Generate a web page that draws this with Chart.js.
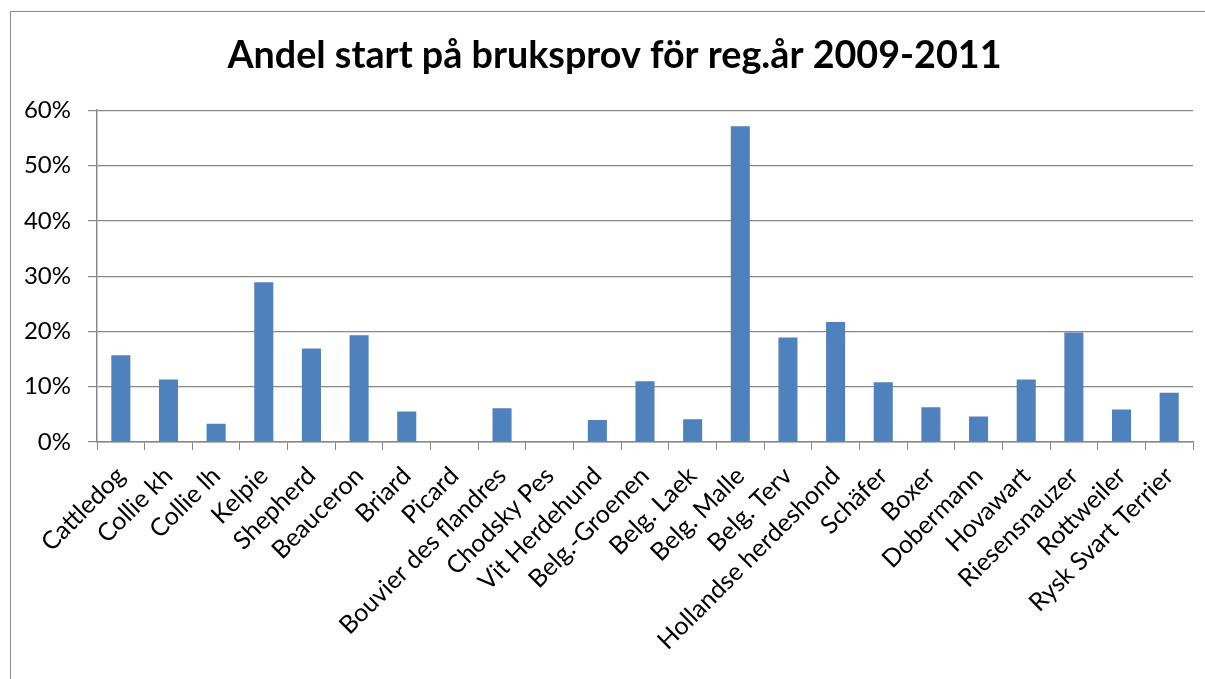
<!DOCTYPE html>
<html>
<head>
<meta charset="utf-8">
<script src="https://cdn.jsdelivr.net/npm/chart.js@4/dist/chart.umd.min.js"></script>
<style>
  html, body { margin: 0; padding: 0; background: #fff; }
  #wrap { position: relative; width: 1205px; height: 679px; }
  #frame { position: absolute; left: 10px; top: 11px; right: -5px; bottom: -5px;
           border-top: 1px solid #8a8a8a; border-left: 1px solid #8a8a8a; pointer-events: none; }
  canvas { display: block; }
</style>
</head>
<body>
<div id="wrap">
  <canvas id="c" width="1205" height="679"></canvas>
  <div id="frame"></div>
</div>
<script>
const titleText = "Andel start på bruksprov för reg.år 2009-2011";
const categories = ["Cattledog", "Collie kh", "Collie lh", "Kelpie", "Shepherd", "Beauceron",
  "Briard", "Picard", "Bouvier des flandres", "Chodsky Pes", "Vit Herdehund", "Belg.-Groenen",
  "Belg. Laek", "Belg. Malle", "Belg. Terv", "Hollandse herdeshond", "Schäfer", "Boxer",
  "Dobermann", "Hovawart", "Riesensnauzer", "Rottweiler", "Rysk Svart Terrier"];
const shares = [15.7, 11.3, 3.3, 28.9, 16.9, 19.3, 5.5, 0, 6.1, 0, 4.0, 11.0,
  4.1, 57.1, 18.9, 21.7, 10.8, 6.3, 4.6, 11.3, 19.8, 5.9, 8.9];
const yTicks = [0, 10, 20, 30, 40, 50, 60];

const FONT = "Lato";

// shift the title block so it is centred like the reference (Excel centres on the whole chart)
const titleShift = {
  id: 'titleShift',
  afterLayout(chart) {
    const t = chart.titleBlock;
    if (t) { t.left += 13; t.right += 13; }
  }
};

new Chart(document.getElementById('c'), {
  type: 'bar',
  data: {
    labels: categories,
    datasets: [{
      data: shares,
      backgroundColor: '#4F81BD',
      borderWidth: 0,
      barPercentage: 0.4,
      categoryPercentage: 1.0
    }]
  },
  plugins: [titleShift],
  options: {
    responsive: false,
    animation: false,
    devicePixelRatio: 1,
    layout: { padding: { left: 10, right: 12, top: 0, bottom: 0 } },
    plugins: {
      legend: { display: false },
      tooltip: { enabled: false },
      title: {
        display: true,
        text: titleText,
        color: '#000',
        font: { family: FONT, size: 37.7, weight: 'bold', lineHeight: 1.2 },
        padding: { top: 33, bottom: 32 }
      }
    },
    scales: {
      x: {
        offset: true,
        grid: { offset: true, drawOnChartArea: false, drawTicks: true, tickLength: 8, color: '#878787', lineWidth: 1 },
        border: { color: '#878787', width: 1.5 },
        ticks: {
          color: '#000',
          font: { family: FONT, size: 25 },
          maxRotation: 45, minRotation: 45,
          autoSkip: false,
          padding: 11
        },
        afterFit: (s) => { s.height = 237; }
      },
      y: {
        min: 0, max: 60,
        afterBuildTicks: (s) => { s.ticks = yTicks.map(v => ({ value: v })); },
        grid: { color: '#878787', lineWidth: 1.2, tickLength: 9 },
        border: { color: '#878787', width: 1.5 },
        ticks: {
          color: '#000',
          font: { family: FONT, size: 24 },
          padding: 17,
          callback: (v) => v + '%'
        },
        afterFit: (s) => { s.width = 87; }
      }
    }
  }
});
</script>
</body>
</html>
